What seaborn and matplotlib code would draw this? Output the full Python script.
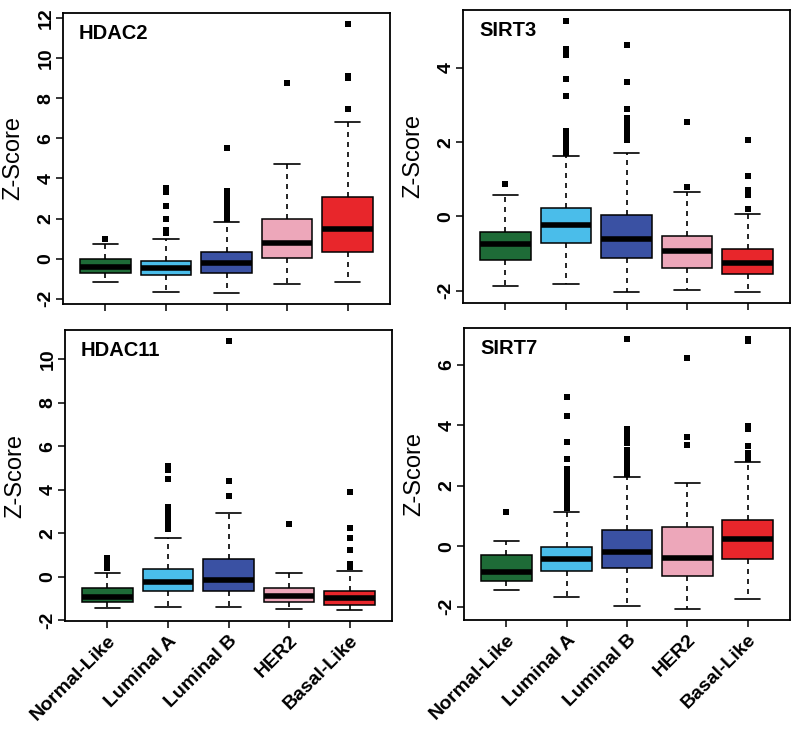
import numpy as np
import pandas as pd
import matplotlib
matplotlib.use("Agg")
import matplotlib.pyplot as plt
import seaborn as sns

categories = ["Normal-Like", "Luminal A", "Luminal B", "HER2", "Basal-Like"]
box_colors = ["#1E6B37", "#4ABDEA", "#3A51A3", "#EDA7BA", "#E8262B"]

# five-number summaries per subtype: lower whisker, Q1, median, Q3, upper whisker
hdac2_stats = [[-1.17, -0.73, -0.41, -0.03, 0.71],
               [-1.65, -0.83, -0.45, -0.12, 0.99],
               [-1.72, -0.73, -0.20, 0.35, 1.85],
               [-1.27, 0.05, 0.76, 1.98, 4.72],
               [-1.14, 0.33, 1.48, 3.05, 6.80]]
hdac2_out = [[0.99],
             [1.30, 1.40, 1.45, 2.00, 2.60, 3.30, 3.40, 3.50],
             [2.00, 2.30, 2.50, 2.70, 2.85, 3.00, 3.20, 3.35, 5.50],
             [8.76],
             [7.45, 9.00, 9.10, 11.70]]

sirt3_stats = [[-1.88, -1.18, -0.74, -0.42, 0.58],
               [-1.82, -0.72, -0.24, 0.23, 1.64],
               [-2.04, -1.12, -0.60, 0.03, 1.70],
               [-1.99, -1.39, -0.93, -0.54, 0.65],
               [-2.04, -1.54, -1.26, -0.87, 0.07]]
sirt3_out = [[0.87],
             [1.70, 1.80, 1.90, 2.00, 2.10, 2.20, 2.30, 3.25, 3.70, 4.35, 4.45, 4.50, 5.27],
             [2.05, 2.15, 2.30, 2.45, 2.55, 2.65, 2.90, 3.61, 4.63],
             [0.79, 2.54],
             [0.20, 0.57, 0.65, 0.70, 1.10, 2.07]]

hdac11_stats = [[-1.44, -1.15, -0.90, -0.49, 0.16],
                [-1.40, -0.64, -0.23, 0.37, 1.79],
                [-1.40, -0.64, -0.14, 0.81, 2.92],
                [-1.48, -1.17, -0.87, -0.53, 0.20],
                [-1.53, -1.28, -0.99, -0.64, 0.28]]
hdac11_out = [[0.43, 0.55, 0.65, 0.75, 0.86],
              [2.20, 2.35, 2.50, 2.65, 2.80, 3.00, 3.20, 4.50, 4.90, 5.08],
              [3.74, 4.40, 10.85],
              [2.44],
              [0.45, 0.58, 1.22, 1.80, 2.26, 3.90]]

sirt7_stats = [[-1.46, -1.14, -0.86, -0.30, 0.18],
               [-1.69, -0.83, -0.42, -0.01, 1.14],
               [-1.96, -0.73, -0.18, 0.53, 2.30],
               [-2.08, -0.98, -0.40, 0.64, 2.10],
               [-1.75, -0.42, 0.25, 0.88, 2.80]]
sirt7_out = [[1.14],
             [1.25, 1.45, 1.65, 1.85, 2.05, 2.25, 2.45, 2.55, 2.88, 3.44, 4.32, 4.93],
             [2.40, 2.60, 2.80, 3.00, 3.20, 3.40, 3.60, 3.75, 3.87, 6.84],
             [3.35, 3.60, 6.22],
             [2.90, 3.10, 3.33, 3.88, 3.99, 6.78, 6.86]]

panels = [("HDAC2", hdac2_stats, hdac2_out, [-2, 0, 2, 4, 6, 8, 10, 12]),
          ("SIRT3", sirt3_stats, sirt3_out, [-2, 0, 2, 4]),
          ("HDAC11", hdac11_stats, hdac11_out, [-2, 0, 2, 4, 6, 8, 10]),
          ("SIRT7", sirt7_stats, sirt7_out, [-2, 0, 2, 4, 6])]

sns.set_theme(style="white")
plt.rcParams["font.family"] = ["Liberation Sans", "DejaVu Sans"]
plt.rcParams["text.color"] = "black"
plt.rcParams["axes.labelcolor"] = "black"
plt.rcParams["xtick.color"] = "black"
plt.rcParams["ytick.color"] = "black"

fig = plt.figure(figsize=(8.0, 7.29), dpi=100)
W, H = 800.0, 729.0
rects = [(63, 13, 390, 304), (463, 10, 790, 303), (65, 330, 392, 621), (464, 328, 790, 620)]

for i, ((name, stats, outs, yt), (x0, y0, x1, y1)) in enumerate(zip(panels, rects)):
    ax = fig.add_axes([x0 / W, 1 - y1 / H, (x1 - x0) / W, (y1 - y0) / H])
    box_df = pd.DataFrame({"subtype": np.repeat(categories, 5),
                           "z": np.concatenate(stats)})
    out_df = pd.DataFrame({"subtype": np.concatenate([[c] * len(o) for c, o in zip(categories, outs)]),
                           "z": np.concatenate(outs)})
    sns.boxplot(data=box_df, x="subtype", y="z", order=categories, hue="subtype",
                hue_order=categories, palette=box_colors, legend=False, saturation=1,
                whis=(0, 100), showfliers=False, width=0.84,
                linecolor="black", linewidth=1.1,
                medianprops=dict(linewidth=4.0, color="black", solid_capstyle="butt"),
                whiskerprops=dict(linestyle=(0, (3, 3)), linewidth=1.2),
                capprops=dict(linewidth=1.2),
                ax=ax)
    sns.stripplot(data=out_df, x="subtype", y="z", order=categories, jitter=False,
                  marker="s", color="black", size=4.0, linewidth=0, ax=ax)
    allv = np.concatenate([np.concatenate(stats), np.concatenate(outs)])
    lo, hi = allv.min(), allv.max()
    pad = 0.04 * (hi - lo)
    ax.set_ylim(lo - pad, hi + pad)
    ax.set_xlim(-0.7, 4.7)
    ax.set_yticks(yt)
    ax.set_yticklabels([str(v) for v in yt], rotation=90, va="center",
                       fontsize=14, fontweight="bold")
    ax.set_xticks(range(len(categories)))
    if i >= 2:
        ax.set_xticklabels(categories, rotation=45, ha="right", rotation_mode="anchor",
                           fontsize=14, fontweight="bold")
    else:
        ax.set_xticklabels([])
    ax.set_xlabel("")
    ax.set_ylabel("Z-Score", fontsize=17)
    ax.yaxis.set_label_coords(-0.12, 0.5)
    ax.tick_params(axis="both", direction="out", length=5, width=1.1, color="black",
                   labelcolor="black", left=True, bottom=True, pad=3)
    ax.tick_params(axis="y", pad=1)
    for s in ax.spines.values():
        s.set_visible(True)
        s.set_color("black")
        s.set_linewidth(1.3)
    ax.text(0.049, 0.93, name, transform=ax.transAxes, fontsize=14.5,
            fontweight="bold", ha="left", va="center", color="black")

fig.savefig("out.png", dpi=100)
